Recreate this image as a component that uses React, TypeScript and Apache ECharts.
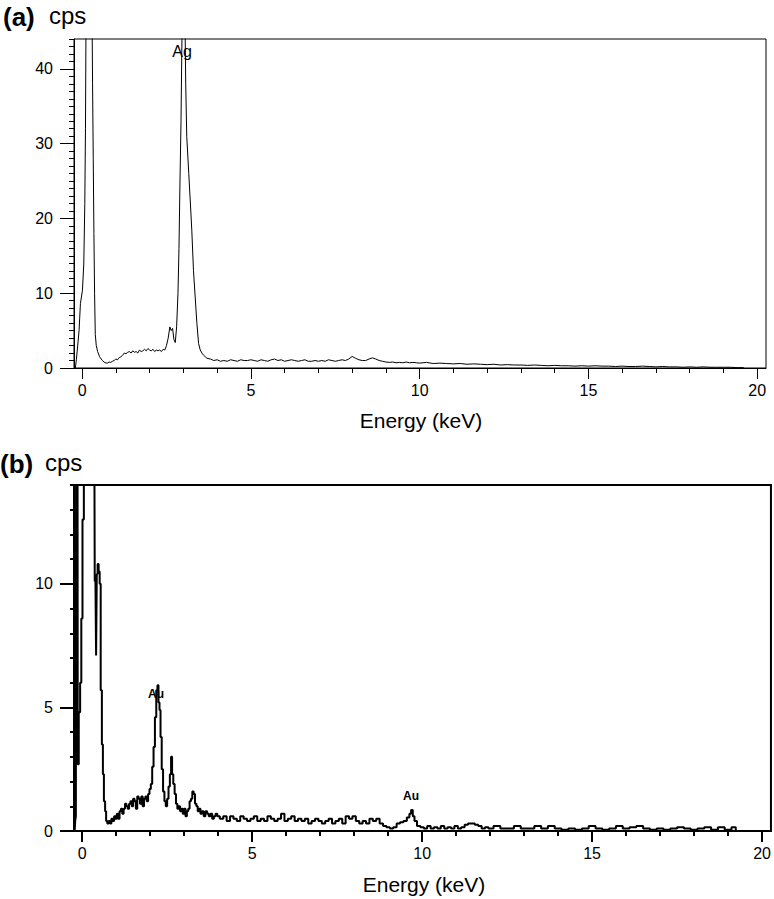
import React, { useEffect, useRef } from "react";
import * as echarts from "echarts";

// ---- Panel (a) spectrum ----
const energyA = [
  -0.2, -0.17, -0.12, -0.09, -0.05, 0.01, 0.05, 0.08, 0.1, 0.12, 0.16, 0.2, 0.25, 0.29, 0.31, 0.33, 0.35, 0.37, 0.39, 0.42,
  0.46, 0.52, 0.6, 0.68, 0.75, 0.8, 0.85, 0.9, 0.95, 1.0, 1.05, 1.1, 1.15, 1.2, 1.25, 1.3, 1.35, 1.4, 1.45, 1.5,
  1.55, 1.6, 1.65, 1.7, 1.75, 1.8, 1.85, 1.9, 1.95, 2.0, 2.05, 2.1, 2.15, 2.2, 2.25, 2.3, 2.35, 2.4, 2.45, 2.5,
  2.55, 2.6, 2.64, 2.68, 2.72, 2.76, 2.8, 2.84, 2.87, 2.9, 2.93, 2.96, 3.0, 3.04, 3.07, 3.1, 3.16, 3.22, 3.25, 3.3,
  3.35, 3.4, 3.45, 3.5, 3.55, 3.6, 3.65, 3.7, 3.8, 3.9, 4.0, 4.1, 4.2, 4.3, 4.4, 4.5, 4.6, 4.7, 4.8, 4.9,
  5.0, 5.1, 5.2, 5.3, 5.4, 5.5, 5.6, 5.7, 5.8, 5.9, 6.0, 6.1, 6.2, 6.3, 6.4, 6.5, 6.6, 6.7, 6.8, 6.9,
  7.0, 7.1, 7.2, 7.3, 7.4, 7.5, 7.6, 7.7, 7.8, 7.9, 8.0, 8.1, 8.2, 8.3, 8.4, 8.5, 8.6, 8.7, 8.8, 8.9,
  9.0, 9.1, 9.2, 9.3, 9.4, 9.5, 9.6, 9.7, 9.8, 9.9, 10.0, 10.2, 10.4, 10.6, 10.8, 11.0, 11.2, 11.4, 11.6, 11.8,
  12.0, 12.2, 12.4, 12.6, 12.8, 13.0, 13.2, 13.4, 13.6, 13.8, 14.0, 14.2, 14.4, 14.6, 14.8, 15.0, 15.2, 15.4, 15.6, 15.8,
  16.0, 16.2, 16.4, 16.6, 16.8, 17.0, 17.2, 17.4, 17.6, 17.8, 18.0, 18.2, 18.4, 18.6, 18.8, 19.0, 19.2, 19.4, 19.6,
];
const cpsA = [
  0, 1.1, 3.5, 5.0, 8.6, 10.4, 13.9, 22, 32, 50, 95, 110, 90, 50, 38, 28, 18, 10, 4.5, 3.0,
  2.2, 1.5, 1.0, 0.7, 0.65, 0.8, 0.75, 0.9, 1.0, 1.2, 1.1, 1.4, 1.5, 1.7, 2.0, 1.9, 2.1, 2.2, 2.0, 2.3,
  2.1, 2.2, 2.0, 2.4, 2.2, 2.3, 2.5, 2.3, 2.6, 2.4, 2.3, 2.5, 2.2, 2.4, 2.3, 2.4, 2.2, 2.5, 2.4, 3.0,
  4.0, 5.5, 5.0, 5.3, 3.8, 3.4, 5.5, 10, 16, 25, 33, 45, 62, 50, 38, 31, 26, 21, 18.4, 13,
  9.5, 6, 3.3, 2.4, 2.0, 1.7, 1.5, 1.3, 1.2, 1.0, 1.1, 0.9, 1.0, 0.9, 1.1, 1.0, 0.9, 1.1, 1.0, 1.0,
  1.1, 1.0, 0.9, 1.1, 1.0, 0.9, 1.1, 1.2, 1.0, 1.1, 0.9, 1.0, 1.1, 1.0, 0.9, 1.0, 1.1, 0.9, 0.9, 1.0,
  0.9, 1.0, 0.9, 1.1, 1.0, 0.9, 1.0, 1.1, 1.0, 1.2, 1.55, 1.3, 1.1, 1.0, 1.0, 1.2, 1.35, 1.2, 1.0, 0.9,
  0.8, 0.75, 0.8, 0.7, 0.75, 0.7, 0.8, 0.7, 0.75, 0.7, 0.65, 0.75, 0.6, 0.65, 0.6, 0.55, 0.6, 0.5, 0.55, 0.5,
  0.45, 0.5, 0.4, 0.45, 0.4, 0.4, 0.35, 0.4, 0.35, 0.3, 0.35, 0.3, 0.3, 0.25, 0.3, 0.25, 0.3, 0.25, 0.25, 0.2,
  0.25, 0.2, 0.2, 0.25, 0.2, 0.15, 0.2, 0.15, 0.15, 0.1, 0.15, 0.1, 0.15, 0.1, 0.1, 0.1, 0.1, 0.05, 0.05,
];

// ---- Panel (b) spectrum ----
const energyB = [
  -0.22, -0.19, -0.18, -0.17, -0.14, -0.12, -0.08, -0.04, -0.01, 0.03, 0.07, 0.1, 0.2, 0.3, 0.36, 0.38, 0.4, 0.42, 0.44, 0.47,
  0.5, 0.53, 0.56, 0.6, 0.62, 0.66, 0.69, 0.72, 0.76, 0.8, 0.84, 0.88, 0.92, 0.96, 1.0, 1.04, 1.08, 1.12, 1.16, 1.2,
  1.24, 1.28, 1.32, 1.36, 1.4, 1.44, 1.48, 1.52, 1.56, 1.6, 1.64, 1.68, 1.72, 1.76, 1.8, 1.84, 1.88, 1.92, 1.96, 2.0,
  2.04, 2.08, 2.12, 2.16, 2.2, 2.23, 2.26, 2.29, 2.32, 2.36, 2.4, 2.44, 2.48, 2.52, 2.56, 2.6, 2.63, 2.66, 2.7, 2.74,
  2.78, 2.82, 2.86, 2.9, 2.94, 2.98, 3.02, 3.06, 3.1, 3.14, 3.18, 3.22, 3.26, 3.3, 3.34, 3.38, 3.42, 3.46, 3.5, 3.55,
  3.6, 3.65, 3.7, 3.75, 3.8, 3.85, 3.9, 3.95, 4.0, 4.1, 4.2, 4.3, 4.4, 4.5, 4.6, 4.7, 4.8, 4.9, 5.0, 5.1,
  5.2, 5.3, 5.4, 5.5, 5.6, 5.7, 5.8, 5.9, 6.0, 6.1, 6.2, 6.3, 6.4, 6.5, 6.6, 6.7, 6.8, 6.9, 7.0, 7.1,
  7.2, 7.3, 7.4, 7.5, 7.6, 7.7, 7.8, 7.9, 8.0, 8.1, 8.2, 8.3, 8.4, 8.5, 8.6, 8.7, 8.8, 8.9, 9.0, 9.1,
  9.2, 9.3, 9.4, 9.5, 9.6, 9.65, 9.7, 9.75, 9.8, 9.9, 10.0, 10.1, 10.2, 10.3, 10.4, 10.5, 10.6, 10.7, 10.8, 10.9,
  11.0, 11.1, 11.2, 11.3, 11.4, 11.5, 11.6, 11.7, 11.8, 11.9, 12.0, 12.2, 12.4, 12.6, 12.8, 13.0, 13.2, 13.4, 13.6, 13.8,
  14.0, 14.2, 14.4, 14.6, 14.8, 15.0, 15.2, 15.4, 15.6, 15.8, 16.0, 16.2, 16.4, 16.6, 16.8, 17.0, 17.2, 17.4, 17.6, 17.8,
  18.0, 18.2, 18.4, 18.6, 18.8, 19.0, 19.2, 19.25,
];
const cpsB = [
  0, 0.4, 0.6, 25, 25, 2.7, 4.8, 6.0, 8.6, 12.6, 14.5, 25, 32, 28, 15, 10.1, 10.2, 7.1, 10.4, 10.8,
  10.5, 10.0, 5.7, 3.5, 2.3, 1.2, 0.8, 0.4, 0.3, 0.4, 0.3, 0.5, 0.4, 0.6, 0.5, 0.7, 0.5, 0.8, 0.9, 0.7,
  0.9, 1.1, 1.0, 0.9, 1.1, 1.2, 1.0, 1.3, 1.2, 0.9, 1.4, 1.3, 1.1, 1.4, 1.0, 1.3, 1.4, 1.2, 1.5, 1.7,
  1.9, 2.6, 3.4, 4.6, 5.7, 5.9, 5.2, 4.9, 3.8, 2.5, 1.6, 1.2, 1.0, 1.3, 1.8, 2.3, 3.0, 2.3, 1.9, 1.5,
  1.1, 0.9, 1.0, 0.8, 0.9, 0.7, 0.9, 0.6, 0.8, 0.9, 1.2, 1.3, 1.6, 1.5, 1.1, 1.0, 0.8, 0.9, 0.7, 0.8,
  0.6, 0.8, 0.7, 0.6, 0.7, 0.5, 0.6, 0.7, 0.6, 0.5, 0.6, 0.4, 0.6, 0.5, 0.4, 0.6, 0.5, 0.4, 0.5, 0.6,
  0.4, 0.5, 0.4, 0.6, 0.5, 0.4, 0.5, 0.7, 0.4, 0.5, 0.6, 0.4, 0.5, 0.4, 0.5, 0.3, 0.4, 0.5, 0.4, 0.3,
  0.4, 0.5, 0.3, 0.4, 0.5, 0.3, 0.6, 0.5, 0.6, 0.4, 0.3, 0.4, 0.3, 0.5, 0.4, 0.5, 0.3, 0.2, 0.15, 0.1,
  0.15, 0.3, 0.35, 0.4, 0.55, 0.7, 0.85, 0.6, 0.4, 0.2, 0.15, 0.1, 0.2, 0.1, 0.15, 0.1, 0.2, 0.1, 0.15, 0.1,
  0.2, 0.1, 0.15, 0.25, 0.3, 0.3, 0.25, 0.2, 0.1, 0.15, 0.1, 0.2, 0.1, 0.1, 0.2, 0.1, 0.1, 0.2, 0.1, 0.2,
  0.1, 0.05, 0.1, 0.05, 0.1, 0.2, 0.1, 0.05, 0.1, 0.2, 0.1, 0.15, 0.2, 0.1, 0.05, 0.1, 0.05, 0.1, 0.15, 0.1,
  0.05, 0.1, 0.15, 0.05, 0.15, 0.05, 0.15, 0,
];

const xMajorTicks = [0, 5, 10, 15, 20];
const xMinorTicks = [0, 1, 2, 3, 4, 5, 6, 7, 8, 9, 10, 11, 12, 13, 14, 15, 16, 17, 18, 19, 20];
const yMajorTicksA = [0, 10, 20, 30, 40];
const yMinorTicksA = [0, 1, 2, 3, 4, 5, 6, 7, 8, 9, 10, 11, 12, 13, 14, 15, 16, 17, 18, 19, 20, 21, 22, 23, 24, 25, 26, 27, 28, 29, 30, 31, 32, 33, 34, 35, 36, 37, 38, 39, 40, 41, 42, 43, 44];
const yMajorTicksB = [0, 5, 10];
const yMinorTicksB = [0, 1, 2, 3, 4, 5, 6, 7, 8, 9, 10, 11, 12, 13, 14];

const FONT = "'Liberation Sans', Arial, sans-serif";

export default function App() {
  const ref = useRef<HTMLDivElement>(null);
  useEffect(() => {
    if (!ref.current) return;
    const chart = echarts.init(ref.current, undefined, { renderer: "svg" });
    const xMin = -0.24;
    const xMax = 20.26;

    const xMajor = (grid: number, w: number) => ({
      type: "value", gridIndex: grid, min: xMin, max: xMax, position: "bottom",
      splitLine: { show: false },
      axisLine: { show: true, onZero: false, lineStyle: { color: "#000", width: w } },
      axisTick: { show: true, inside: false, length: 11, customValues: xMajorTicks, lineStyle: { color: "#000", width: w } },
      axisLabel: { show: true, customValues: xMajorTicks, margin: 14, color: "#000", fontSize: 16, fontFamily: FONT },
    });
    const xMinor = (grid: number, w: number) => ({
      type: "value", gridIndex: grid, min: xMin, max: xMax, position: "bottom",
      splitLine: { show: false },
      axisLine: { show: false, onZero: false },
      axisTick: { show: true, inside: false, length: 5, customValues: xMinorTicks, lineStyle: { color: "#000", width: w } },
      axisLabel: { show: false },
    });
    const yMajor = (grid: number, max: number, major: number[], w: number) => ({
      type: "value", gridIndex: grid, min: 0, max, position: "left",
      splitLine: { show: false },
      axisLine: { show: true, onZero: false, lineStyle: { color: "#000", width: w } },
      axisTick: { show: true, inside: false, length: 14, customValues: major, lineStyle: { color: "#000", width: w } },
      axisLabel: { show: true, customValues: major, margin: 21, color: "#000", fontSize: 16, fontFamily: FONT },
    });
    const yMinor = (grid: number, max: number, minor: number[], w: number, len: number) => ({
      type: "value", gridIndex: grid, min: 0, max, position: "left",
      splitLine: { show: false },
      axisLine: { show: false, onZero: false },
      axisTick: { show: true, inside: false, length: len, customValues: minor, lineStyle: { color: "#000", width: w } },
      axisLabel: { show: false },
    });

    const dataA = energyA.map((e, i) => [e, cpsA[i]]);
    const dataB = energyB.map((e, i) => [e, cpsB[i]]);

    const gA = { left: 74, top: 39, right: 8, bottom: 531 };
    const gB = { left: 74, top: 485, right: 3, bottom: 68 };

    chart.setOption({
      animation: false,
      backgroundColor: "#fff",
      grid: [
        { ...gA, show: true, borderColor: "#000", borderWidth: 1, backgroundColor: "transparent" },
        { ...gA, show: false },
        { ...gB, show: true, borderColor: "#000", borderWidth: 2, backgroundColor: "transparent" },
        { ...gB, show: false },
      ],
      xAxis: [xMajor(0, 1), xMinor(1, 1), xMajor(2, 2), xMinor(3, 2)],
      yAxis: [
        yMajor(0, 44, yMajorTicksA, 1),
        yMinor(1, 44, yMinorTicksA, 1, 5),
        yMajor(2, 14, yMajorTicksB, 2),
        yMinor(3, 14, yMinorTicksB, 2, 4),
      ],
      series: [
        {
          type: "line", xAxisIndex: 0, yAxisIndex: 0, data: dataA, showSymbol: false, clip: true,
          lineStyle: { color: "#000", width: 1 },
        },
        {
          type: "line", xAxisIndex: 2, yAxisIndex: 2, data: dataB, showSymbol: false, clip: true, step: "middle",
          lineStyle: { color: "#000", width: 2 },
        },
      ],
      graphic: [
        { type: "text", left: 3, top: 4, style: { text: "(a)", font: `bold 26px ${FONT}`, fill: "#000" } },
        { type: "text", left: 49, top: 3, style: { text: "cps", font: `24px ${FONT}`, fill: "#000" } },
        { type: "text", left: 0, top: 451, style: { text: "(b)", font: `bold 26px ${FONT}`, fill: "#000" } },
        { type: "text", left: 45, top: 450, style: { text: "cps", font: `24px ${FONT}`, fill: "#000" } },
        { type: "text", x: 182, y: 51, style: { text: "Ag", font: `16px ${FONT}`, fill: "#000", align: "center", verticalAlign: "middle" } },
        { type: "text", x: 156, y: 694, style: { text: "Au", font: `bold 12px ${FONT}`, fill: "#000", align: "center", verticalAlign: "middle" } },
        { type: "text", x: 411, y: 796, style: { text: "Au", font: `bold 12px ${FONT}`, fill: "#000", align: "center", verticalAlign: "middle" } },
        { type: "text", x: 421, y: 420, style: { text: "Energy (keV)", font: `21px ${FONT}`, fill: "#000", align: "center", verticalAlign: "middle" } },
        { type: "text", x: 424, y: 884, style: { text: "Energy (keV)", font: `21px ${FONT}`, fill: "#000", align: "center", verticalAlign: "middle" } },
      ],
    });
    return () => chart.dispose();
  }, []);
  return <div ref={ref} style={{ position: "fixed", left: 0, top: 0, width: 774, height: 899, background: "#fff" }} />;
}
